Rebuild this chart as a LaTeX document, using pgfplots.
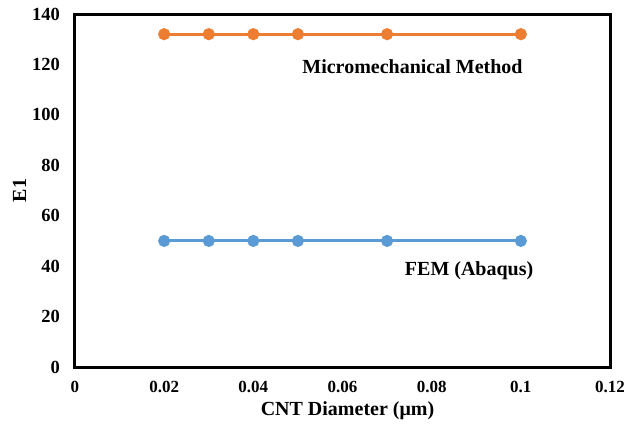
\documentclass[border=0pt]{standalone}
\usepackage{pgfplots}
\pgfplotsset{compat=1.18}
\usepackage{fontspec}
\setmainfont{Liberation Serif}
\definecolor{exorange}{HTML}{ED7D31}
\definecolor{exblue}{HTML}{5B9BD5}
\begin{document}
\fontsize{20}{24}\selectfont\bfseries
\begin{tikzpicture}
\begin{axis}[
  scale only axis,
  width=535pt, height=353pt,
  xmin=0, xmax=0.12, ymin=0, ymax=140,
  xtick={0,0.02,0.04,0.06,0.08,0.1,0.12},
  xticklabels={0,0.02,0.04,0.06,0.08,0.1,0.12},
  scaled x ticks=false,
  ytick={0,20,40,60,80,100,120,140},
  major tick length=0pt,
  axis line style={line width=3pt},
  /pgf/number format/assume math mode=true,
  tick label style={inner sep=1pt},
  yticklabel style={font=\fontsize{18.5}{22}\selectfont\bfseries, xshift=-14pt},
  xticklabel style={font=\fontsize{17}{20}\selectfont\bfseries, yshift=-13pt},
  label style={font=\fontsize{20}{24}\selectfont\bfseries},
  xlabel={CNT Diameter (μm)},
  ylabel={E1},
  xlabel style={yshift=-1pt, xshift=5pt},
  ylabel style={yshift=-2pt},
  clip=false,
]
\addplot[color=exorange, line width=3pt, mark=*, mark size=4.5pt, mark options={solid}] coordinates {
(0.02,132) (0.03,132) (0.04,132) (0.05,132) (0.07,132) (0.1,132)};
\addplot[color=exblue, line width=3pt, mark=*, mark size=4.5pt, mark options={solid}] coordinates {
(0.02,50) (0.03,50) (0.04,50) (0.05,50) (0.07,50) (0.1,50)};
\node[font=\fontsize{20}{24}\selectfont\bfseries] at (axis cs:0.0757,119) {Micromechanical Method};
\node[font=\fontsize{20}{24}\selectfont\bfseries] at (axis cs:0.0884,38) {FEM (Abaqus)};
\end{axis}
\pgfresetboundingbox
\path (current axis.south west) ++(-75pt,-57pt) coordinate (bbA);
\path (current axis.north east) ++(16pt,14pt) coordinate (bbB);
\useasboundingbox (bbA) rectangle (bbB);
\end{tikzpicture}
\end{document}
